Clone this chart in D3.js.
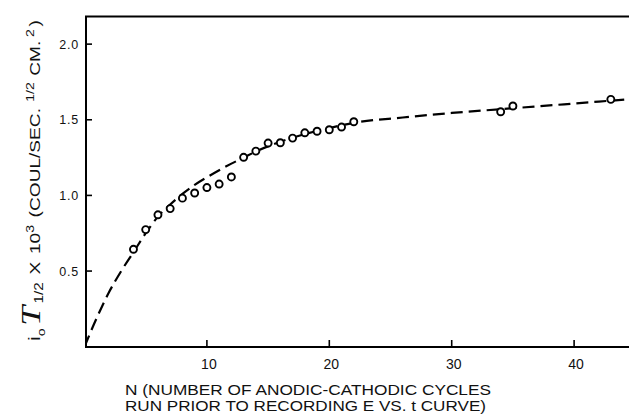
<!DOCTYPE html>
<html><head><meta charset="utf-8">
<script src="https://cdn.jsdelivr.net/npm/d3@7"></script>
<style>body{margin:0;background:#fff}svg{display:block}</style>
</head><body>
<script>
// ---- data ----
const cycles = [4,5,6,7,8,9,10,11,12,13,14,15,16,17,18,19,20,21,22,34,35,43];
const values = [0.644,0.774,0.872,0.913,0.982,1.016,1.052,1.075,1.122,1.252,1.293,1.346,1.348,1.379,1.414,1.424,1.434,1.452,1.487,1.553,1.591,1.635];
const curveN = [0,1,2,3,4,5,6,7,8,9,10,12,13,14,16,18,20,22,26,30,34,38,42,46];
const curveV = [0,0.19,0.36,0.50,0.625,0.75,0.86,0.94,1.01,1.07,1.12,1.21,1.25,1.29,1.355,1.405,1.445,1.48,1.515,1.545,1.57,1.595,1.62,1.645];
const xTicks = [10,20,30,40];
const yTicks = [0.5,1.0,1.5,2.0];
const xLabel1 = "N (NUMBER OF ANODIC-CATHODIC CYCLES";
const xLabel2 = "RUN PRIOR TO RECORDING E VS. t CURVE)";

(function(){
const W = 629, H = 414;
const svg = d3.select("body").append("svg").attr("width", W).attr("height", H);
const font = "'Liberation Sans', Arial, sans-serif";

const x = d3.scaleLinear().domain([0, 44.55]).range([84.5, 629.8]);
const y = d3.scaleLinear().domain([0, 2.18]).range([346.7, 16.9]);

const pLeft = 86, pBottom = 347, pTop = 16.5;

svg.append("defs").append("clipPath").attr("id","plot")
  .append("rect").attr("x", pLeft).attr("y", pTop).attr("width", W - pLeft).attr("height", pBottom - pTop);

// frame
svg.append("path").attr("d", `M${W},${pTop}H${pLeft}V${pBottom}H${W}`)
  .attr("stroke","#000").attr("stroke-width",2).attr("fill","none");

// y ticks (inward)
const yg = svg.append("g");
yg.selectAll("line").data(yTicks).join("line")
  .attr("x1", pLeft).attr("x2", pLeft + 6)
  .attr("y1", d => y(d)).attr("y2", d => y(d))
  .attr("stroke","#000").attr("stroke-width",1.6);
yg.selectAll("text").data(yTicks).join("text")
  .attr("x", 79).attr("y", d => y(d) + 4.5)
  .attr("text-anchor","end").attr("font-family", font).attr("font-size", 12.5)
  .attr("letter-spacing", 0.8).attr("fill","#111")
  .text(d => d.toFixed(1));

// x ticks (inward)
const xg = svg.append("g");
xg.selectAll("line").data(xTicks).join("line")
  .attr("x1", d => x(d)).attr("x2", d => x(d))
  .attr("y1", pBottom).attr("y2", pBottom - 7)
  .attr("stroke","#000").attr("stroke-width",1.6);
xg.selectAll("text").data(xTicks).join("text")
  .attr("x", d => x(d) + 2).attr("y", 369)
  .attr("text-anchor","middle").attr("font-family", font).attr("font-size", 14)
  .attr("fill","#111")
  .text(d => d);

// x label
svg.append("text").attr("x",125).attr("y",395)
  .attr("font-family", font).attr("font-size", 15.5).attr("fill","#111")
  .attr("textLength", 366).attr("lengthAdjust","spacingAndGlyphs").text(xLabel1);
svg.append("text").attr("x",125).attr("y",411)
  .attr("font-family", font).attr("font-size", 15.5).attr("fill","#111")
  .attr("textLength", 361).attr("lengthAdjust","spacingAndGlyphs").text(xLabel2);

// y label (rotated)
const yl = svg.append("text")
  .attr("transform","translate(40,341) rotate(-90)")
  .attr("font-family", font).attr("font-size", 15).attr("fill","#111");
yl.append("tspan").attr("font-size",17).text("i");
yl.append("tspan").attr("font-size",11).attr("dy",5).text("o");
yl.append("tspan").attr("font-family","'Liberation Serif', serif").attr("font-style","italic")
  .attr("font-size",28).attr("dy",-5).attr("dx",2).text("T");
yl.append("tspan").attr("font-size",12).attr("dy",3).attr("dx",2).text("1/2");
yl.append("tspan").attr("dy",-3).attr("dx",6).text("X");
yl.append("tspan").attr("dx",6).text("10");
yl.append("tspan").attr("font-size",11).attr("dy",-6).text("3");
yl.append("tspan").attr("dy",6).attr("dx",6).text("(COUL/SEC.");
yl.append("tspan").attr("font-size",11).attr("dy",-6).attr("dx",5).text("1/2");
yl.append("tspan").attr("dy",6).attr("dx",5).text("CM.");
yl.append("tspan").attr("font-size",11).attr("dy",-6).attr("dx",3).text("2");
yl.append("tspan").attr("dy",6).attr("dx",2).text(")");
const bb = yl.node().getBBox();
const target = 321;
yl.attr("transform", `translate(40,341) rotate(-90) scale(${target/bb.width},1)`);

// dashed curve
const line = d3.line().x(d => x(d[0])).y(d => y(d[1])).curve(d3.curveMonotoneX);
svg.append("path").datum(d3.zip(curveN, curveV))
  .attr("clip-path","url(#plot)")
  .attr("d", line).attr("fill","none").attr("stroke","#000")
  .attr("stroke-width",2.2).attr("stroke-dasharray","12,6");

// points
svg.append("g").selectAll("circle").data(d3.zip(cycles, values)).join("circle")
  .attr("cx", d => x(d[0])).attr("cy", d => y(d[1])).attr("r", 3.5)
  .attr("fill","#fff").attr("stroke","#000").attr("stroke-width",1.9);
})();
</script>
</body></html>
